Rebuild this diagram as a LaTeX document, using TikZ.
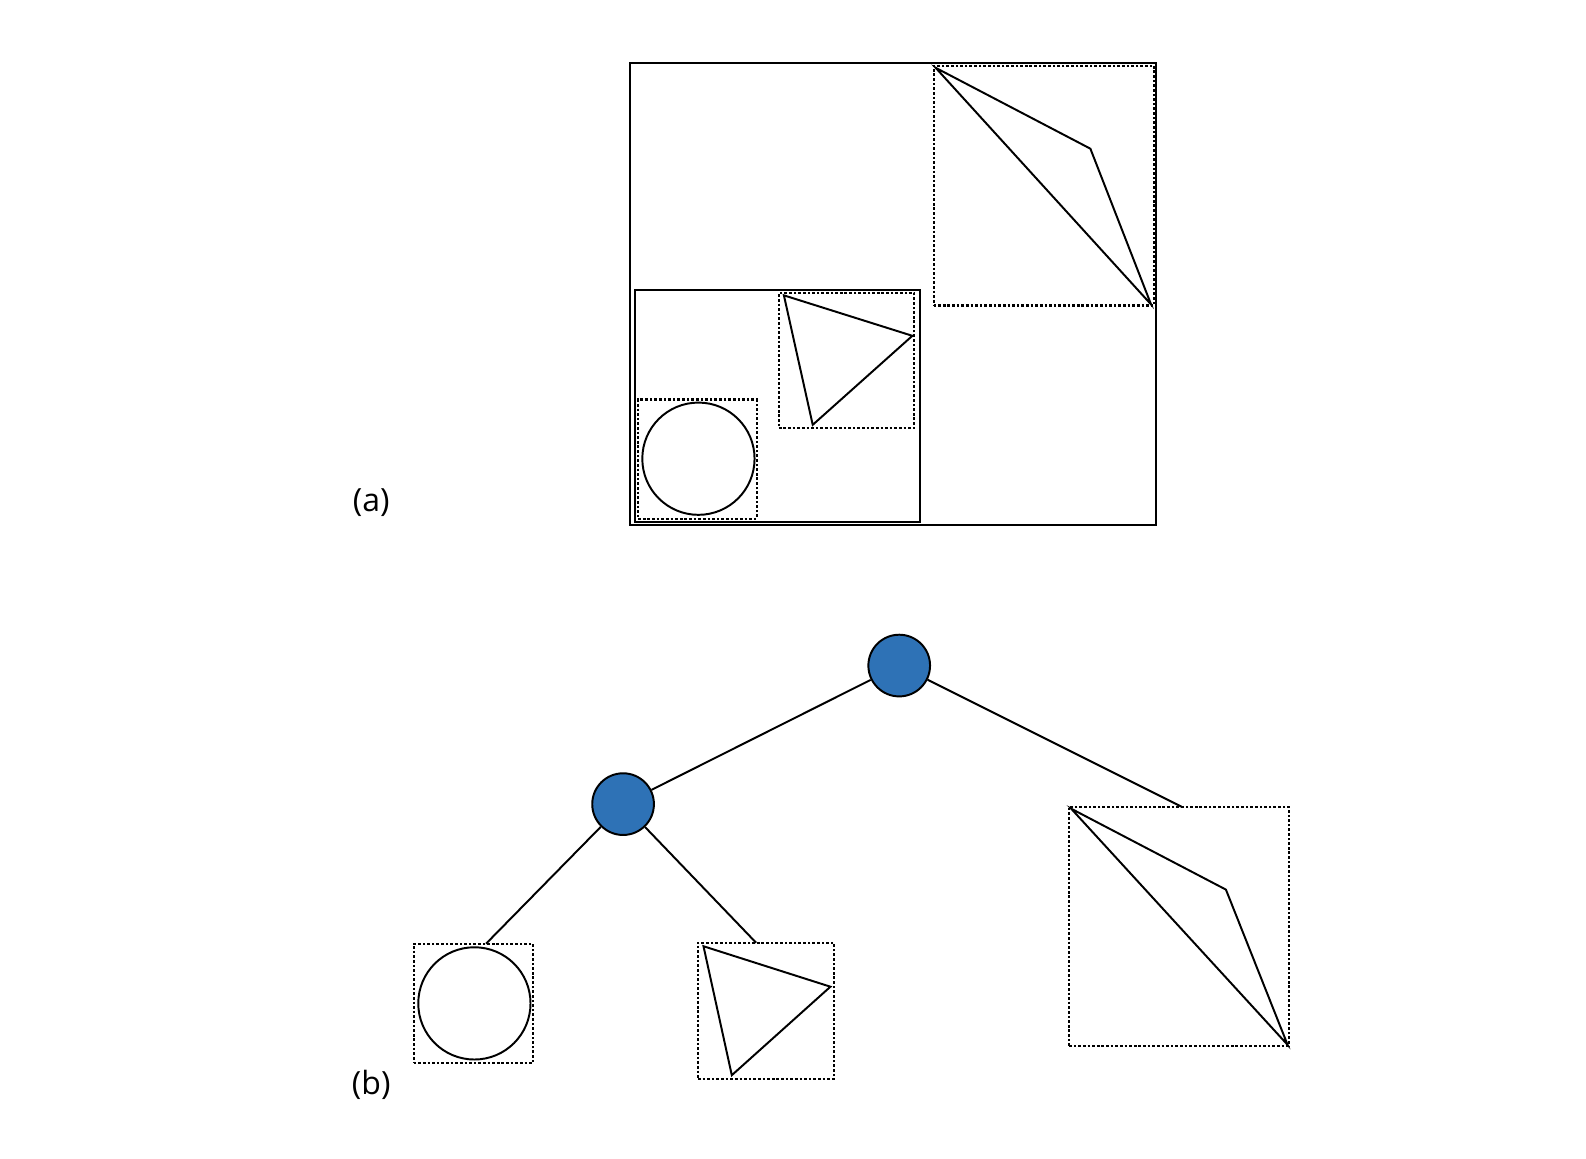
\documentclass[tikz,border=0pt]{standalone}
\usepackage{fontspec}
\setmainfont{Open Sans}
\usetikzlibrary{fit}
\definecolor{nodeblue}{RGB}{46,114,182}
\begin{document}
\begin{tikzpicture}[x=0.02cm,y=-0.02cm,
  outline/.style={draw, line width=1.1pt, inner sep=0pt, outer sep=0pt},
  bbox/.style={draw, line width=1.2pt, dash pattern=on 1.5pt off 1.1pt, inner sep=0pt, outer sep=0pt},
  treenode/.style={circle, draw, fill=nodeblue, line width=1.1pt, minimum size=1.22cm, inner sep=0pt},
  shapeline/.style={line width=1.1pt, line join=miter},
  link/.style={line width=1.1pt},
  caption/.style={font=\fontsize{18}{21}\selectfont}
]
\useasboundingbox (0,0) rectangle (1568,1145);

% (a) spatial partition of the scene
\node[outline, fit={(623,62)(1143,519)}] (outer) {};
\node[outline, fit={(628,287)(910,516)}] (innerbox) {};
\node[bbox, fit={(631,395)(748,513)}] (acbox) {};
\draw[shapeline] (690.5,453.5) circle[radius=1.11cm];
\node[bbox, fit={(770,290)(904,423)}] (atbox) {};
\draw[shapeline] (775,292) -- (902,332) -- (803.5,420) -- cycle;
\node[bbox, fit={(923,65)(1141,302)}] (aqbox) {};
\draw[shapeline] (925,67) -- (1078,147) -- (1138,301) -- cycle;
\node[caption] (la) at (367,497) {(a)};

% (b) the corresponding hierarchy
\node[treenode] (root) at (889,658) {};
\node[treenode] (mid) at (616,795) {};
\node[bbox, fit={(409,933)(527,1051)}] (bcbox) {};
\draw[shapeline] (469,992) circle[radius=1.11cm];
\node[bbox, fit={(690,932)(824.5,1066.5)}] (btbox) {};
\draw[shapeline] (695.5,935.5) -- (821,975.5) -- (723.5,1063) -- cycle;
\node[bbox, fit={(1057,797.5)(1274,1034)}] (bqbox) {};
\draw[shapeline] (1059,799.5) -- (1212,879.5) -- (1273,1033) -- cycle;
\coordinate (bctop) at (480.5,933);
\coordinate (bttop) at (747.5,932);
\coordinate (bqtop) at (1168,797.5);
\draw[link] (root) -- (mid);
\draw[link] (root) -- (bqtop);
\draw[link] (mid) -- (bctop);
\draw[link] (mid) -- (bttop);
\node[caption] (lb) at (367,1073) {(b)};
\end{tikzpicture}
\end{document}
